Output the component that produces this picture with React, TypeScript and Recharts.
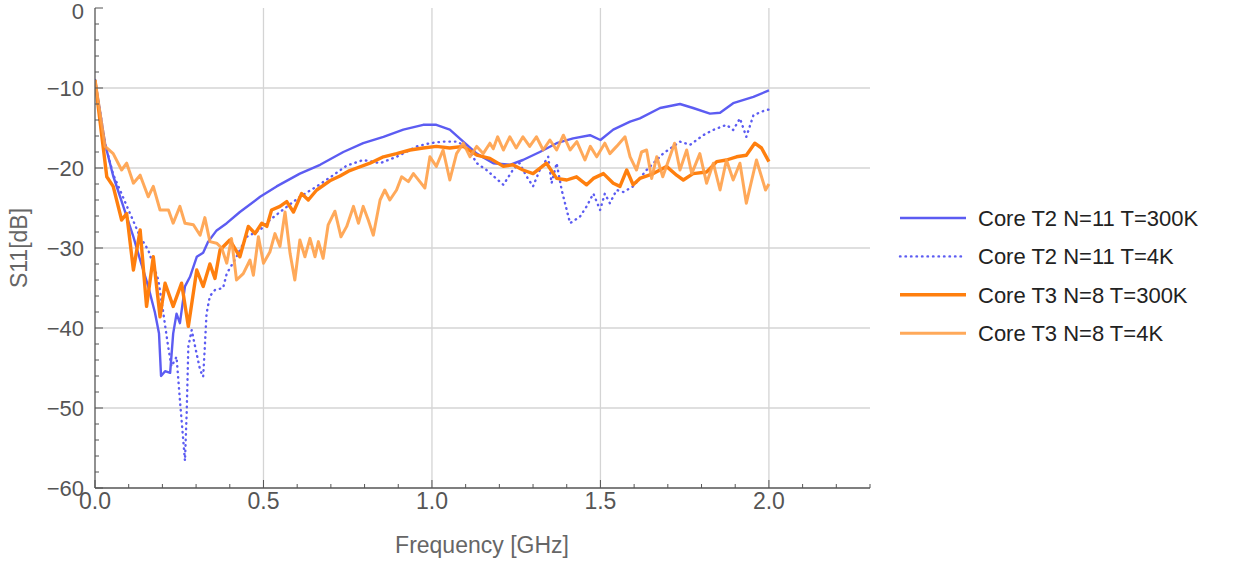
import { LineChart, Line, XAxis, YAxis, ReferenceLine } from "recharts"

// Frequency [GHz] and S11 [dB] per trace
const freqT2Warm = [0, 0.03, 0.054, 0.084, 0.114, 0.134, 0.158, 0.178, 0.19, 0.196, 0.208, 0.223, 0.232, 0.242, 0.252, 0.267, 0.282, 0.302, 0.321, 0.336, 0.361, 0.391, 0.43, 0.49, 0.539, 0.608, 0.668, 0.737, 0.796, 0.856, 0.915, 0.974, 1.013, 1.053, 1.093, 1.133, 1.182, 1.231, 1.27, 1.32, 1.37, 1.419, 1.469, 1.5, 1.538, 1.588, 1.617, 1.677, 1.736, 1.775, 1.825, 1.855, 1.894, 1.954, 2.0]
const s11T2Warm = [-9, -17.0, -21.0, -24.8, -28.6, -31.5, -34.8, -38.1, -40.7, -46.0, -45.4, -45.6, -40.7, -38.2, -39.4, -34.8, -33.6, -31.1, -30.6, -29.2, -27.8, -26.9, -25.5, -23.6, -22.3, -20.7, -19.6, -18.0, -16.9, -16.1, -15.2, -14.6, -14.6, -15.2, -16.7, -18.2, -19.4, -19.6, -19.0, -18.0, -16.9, -16.3, -15.9, -16.5, -15.2, -14.2, -13.8, -12.5, -12.0, -12.5, -13.2, -13.1, -11.9, -11.1, -10.3]

const freqT2Cold = [0, 0.03, 0.054, 0.074, 0.104, 0.134, 0.158, 0.188, 0.203, 0.217, 0.227, 0.242, 0.252, 0.267, 0.272, 0.277, 0.287, 0.297, 0.312, 0.321, 0.326, 0.331, 0.341, 0.356, 0.38, 0.391, 0.42, 0.45, 0.49, 0.519, 0.549, 0.608, 0.658, 0.707, 0.747, 0.796, 0.846, 0.895, 0.955, 0.994, 1.033, 1.073, 1.103, 1.133, 1.162, 1.182, 1.212, 1.24, 1.26, 1.28, 1.3, 1.32, 1.345, 1.355, 1.37, 1.385, 1.4, 1.41, 1.439, 1.459, 1.479, 1.499, 1.513, 1.528, 1.548, 1.568, 1.597, 1.637, 1.686, 1.736, 1.766, 1.805, 1.834, 1.874, 1.894, 1.914, 1.933, 1.954, 1.988, 2.0]
const s11T2Cold = [-9, -17.0, -20.8, -22.75, -25.7, -28.6, -30.25, -34.0, -38.2, -42.3, -44.8, -43.6, -49.0, -56.6, -50.7, -42.3, -40.25, -42.3, -45.25, -46.1, -42.3, -38.2, -36.0, -35.25, -35.0, -33.2, -31.1, -28.6, -27.75, -26.5, -25.5, -23.6, -22.3, -20.9, -19.7, -19.0, -19.4, -18.6, -17.3, -16.9, -16.7, -16.7, -17.3, -19.4, -20.25, -21.0, -22.1, -20.25, -19.4, -21.0, -22.3, -20.25, -18.6, -21.9, -19.4, -22.75, -25.25, -26.9, -26.1, -24.8, -23.2, -25.25, -23.2, -24.4, -22.75, -23.0, -22.3, -20.25, -18.2, -16.7, -17.1, -15.9, -15.25, -14.6, -15.25, -13.8, -16.1, -13.4, -12.8, -12.7]

const freqT3Warm = [0, 0.035, 0.054, 0.079, 0.094, 0.114, 0.134, 0.153, 0.173, 0.193, 0.208, 0.232, 0.257, 0.277, 0.302, 0.321, 0.341, 0.356, 0.371, 0.4, 0.43, 0.455, 0.475, 0.495, 0.51, 0.524, 0.549, 0.569, 0.589, 0.613, 0.633, 0.658, 0.697, 0.727, 0.752, 0.777, 0.816, 0.856, 0.895, 0.935, 0.974, 1.013, 1.053, 1.093, 1.133, 1.172, 1.212, 1.24, 1.27, 1.3, 1.34, 1.37, 1.4, 1.429, 1.459, 1.479, 1.509, 1.538, 1.558, 1.578, 1.597, 1.617, 1.657, 1.696, 1.726, 1.746, 1.775, 1.815, 1.845, 1.874, 1.904, 1.933, 1.958, 1.978, 2.0]
const s11T3Warm = [-9, -21.1, -22.3, -26.5, -25.7, -32.75, -27.75, -37.3, -31.1, -38.6, -34.4, -37.3, -34.4, -39.8, -32.75, -34.8, -32.0, -33.8, -30.25, -29.0, -31.1, -27.3, -28.2, -26.9, -27.3, -25.25, -24.8, -24.2, -25.5, -23.2, -24.0, -22.75, -21.6, -21.0, -20.4, -20.0, -19.4, -18.6, -18.2, -17.75, -17.5, -17.3, -17.5, -17.3, -18.4, -18.8, -19.8, -19.6, -20.25, -20.7, -19.4, -21.3, -21.5, -21.1, -22.1, -21.3, -20.7, -21.9, -22.3, -20.25, -22.1, -21.3, -20.7, -19.8, -20.9, -21.5, -20.7, -20.5, -19.2, -19.0, -18.6, -18.4, -16.9, -17.5, -19.2]

const freqT3Cold = [0, 0.03, 0.054, 0.079, 0.094, 0.114, 0.134, 0.158, 0.173, 0.193, 0.218, 0.232, 0.252, 0.267, 0.292, 0.312, 0.326, 0.341, 0.361, 0.376, 0.391, 0.405, 0.42, 0.44, 0.46, 0.47, 0.485, 0.5, 0.519, 0.534, 0.549, 0.564, 0.579, 0.593, 0.608, 0.623, 0.638, 0.653, 0.663, 0.677, 0.692, 0.712, 0.73, 0.747, 0.767, 0.782, 0.796, 0.811, 0.826, 0.846, 0.86, 0.875, 0.895, 0.91, 0.93, 0.945, 0.964, 0.979, 0.994, 1.013, 1.033, 1.053, 1.073, 1.093, 1.113, 1.133, 1.152, 1.172, 1.182, 1.195, 1.212, 1.231, 1.25, 1.27, 1.29, 1.31, 1.33, 1.35, 1.37, 1.39, 1.41, 1.43, 1.454, 1.47, 1.489, 1.513, 1.528, 1.548, 1.573, 1.588, 1.607, 1.622, 1.637, 1.652, 1.667, 1.685, 1.72, 1.736, 1.756, 1.771, 1.795, 1.815, 1.835, 1.855, 1.874, 1.894, 1.914, 1.933, 1.963, 1.99, 2.0]
const s11T3Cold = [-9, -17.3, -18.2, -20.25, -19.4, -21.9, -20.9, -23.6, -22.3, -25.25, -25.25, -26.9, -24.8, -26.9, -27.1, -28.4, -26.2, -29.2, -29.4, -30.0, -31.9, -28.8, -34.0, -33.2, -31.5, -33.4, -28.6, -31.9, -30.5, -28.2, -29.8, -25.5, -30.7, -34.0, -29.0, -31.1, -28.8, -31.1, -29.2, -31.3, -27.1, -25.4, -28.6, -27.3, -24.8, -26.9, -24.8, -26.5, -28.4, -24.0, -22.75, -24.0, -22.75, -21.1, -21.7, -20.7, -21.7, -22.5, -18.6, -19.8, -17.75, -21.5, -18.2, -16.9, -18.6, -17.3, -18.2, -16.9, -17.6, -16.1, -17.75, -16.1, -17.5, -16.1, -17.3, -16.1, -17.75, -16.5, -17.75, -15.9, -17.75, -16.7, -19.0, -17.3, -18.6, -16.9, -18.2, -17.3, -16.1, -18.6, -20.25, -18.0, -17.75, -21.3, -18.6, -21.1, -16.9, -20.25, -17.75, -20.7, -18.2, -21.9, -19.4, -22.75, -19.0, -21.5, -19.4, -24.4, -19.0, -22.75, -22.0]

const xTicks = Array.from({ length: 24 }, (_, i) => i / 10)
const yTicks = Array.from({ length: 31 }, (_, i) => -60 + i * 2)

const isMajorX = (v: number) => Math.round(v * 10) % 5 === 0
const isMajorY = (v: number) => v % 10 === 0

const zip = (f: number[], s: number[]) => f.map((x, i) => ({ f: x, v: s[i] }))

const series = [
  { name: "Core T2 N=11 T=300K", data: zip(freqT2Warm, s11T2Warm), color: "#5c5cf2", width: 2.4, dash: undefined as string | undefined, opacity: 1 },
  { name: "Core T2 N=11 T=4K", data: zip(freqT2Cold, s11T2Cold), color: "#5c5cf2", width: 2.4, dash: "0.5 5", opacity: 1 },
  { name: "Core T3 N=8 T=300K", data: zip(freqT3Warm, s11T3Warm), color: "#ff7f0e", width: 3.4, dash: undefined, opacity: 1 },
  { name: "Core T3 N=8 T=4K", data: zip(freqT3Cold, s11T3Cold), color: "#ffa048", width: 3, dash: undefined, opacity: 0.9 },
]

const frame = "#555"
const font = "'Liberation Sans', Arial, sans-serif"

const fmtY = (v: number) => (v === 0 ? "0" : "\u2212" + Math.abs(v))

const BottomTick = ({ x, y, payload }: any) => {
  const major = isMajorX(payload.value)
  return (
    <g>
      <line x1={x} x2={x} y1={y} y2={y - (major ? 8 : 4)} stroke={frame} />
      {major && (
        <text x={x} y={y + 21} textAnchor="middle" fill="#555" fontSize={23} fontFamily={font}>
          {payload.value.toFixed(1)}
        </text>
      )}
    </g>
  )
}

const TopTick = ({ x, y, payload }: any) => (
  <line x1={x} x2={x} y1={y} y2={y + (isMajorX(payload.value) ? 8 : 4)} stroke={frame} />
)

const LeftTick = ({ x, y, payload }: any) => {
  const major = isMajorY(payload.value)
  // the top label sits against the page edge, so it is nudged down a little
  const dy = payload.value === 0 ? 11 : 8
  return (
    <g>
      <line x1={x} x2={x + (major ? 8 : 4)} y1={y} y2={y} stroke={frame} />
      {major && (
        <text x={x - 11} y={y + dy} textAnchor="end" fill="#555" fontSize={22} fontFamily={font}>
          {fmtY(payload.value)}
        </text>
      )}
    </g>
  )
}

const RightTick = ({ x, y, payload }: any) => (
  <line x1={x} x2={x - (isMajorY(payload.value) ? 8 : 4)} y1={y} y2={y} stroke={frame} />
)

const LegendBox = () => (
  <svg width={343} height={160} style={{ position: "absolute", left: 895, top: 200 }}>
    {series.map((s, i) => {
      const cy = 18 + i * 38.4
      return (
        <g key={s.name}>
          <line x1={5} x2={71} y1={cy} y2={cy} stroke={s.color} strokeWidth={s.width} strokeDasharray={s.dash} strokeLinecap={s.dash ? "round" : "butt"} strokeOpacity={s.opacity} />
          <text x={83} y={cy + 8} fill="#222" fontSize={22} fontFamily={font}>
            {s.name}
          </text>
        </g>
      )
    })}
  </svg>
)

const App = () => {
  return (
    <div style={{ position: "absolute", left: 0, top: 0, width: 1238, height: 565, background: "#fff" }}>
      <LineChart width={1238} height={565} margin={{ top: 8, right: 368, bottom: 0, left: 0 }}>
        <XAxis
          dataKey="f"
          type="number"
          domain={[0, 2.3]}
          ticks={xTicks}
          interval={0}
          height={77}
          tickSize={0}
          tickMargin={0}
          tick={<BottomTick />}
          axisLine={{ stroke: frame, strokeWidth: 1.3 }}
          allowDataOverflow
          label={{
            content: () => (
              <text x={482} y={553} textAnchor="middle" fill="#666" fontSize={23} fontFamily={font}>
                Frequency [GHz]
              </text>
            ),
          }}
        />
        <XAxis
          xAxisId="top"
          orientation="top"
          dataKey="f"
          type="number"
          domain={[0, 2.3]}
          ticks={xTicks}
          interval={0}
          height={0}
          tickSize={0}
          tickMargin={0}
          tick={<TopTick />}
          axisLine={{ stroke: frame, strokeWidth: 1.3 }}
          allowDataOverflow
        />
        <YAxis
          type="number"
          domain={[-60, 0]}
          ticks={yTicks}
          interval={0}
          width={95}
          tickSize={0}
          tickMargin={0}
          tick={<LeftTick />}
          axisLine={{ stroke: frame, strokeWidth: 1.3 }}
          allowDataOverflow
          label={{
            content: () => (
              <text transform="translate(27,248) rotate(-90)" textAnchor="middle" fill="#666" fontSize={23} fontFamily={font}>
                S11[dB]
              </text>
            ),
          }}
        />
        <YAxis
          yAxisId="right"
          orientation="right"
          type="number"
          domain={[-60, 0]}
          ticks={yTicks}
          interval={0}
          width={0}
          tickSize={0}
          tickMargin={0}
          tick={<RightTick />}
          axisLine={{ stroke: frame, strokeWidth: 1.3 }}
          allowDataOverflow
        />
        {xTicks.filter((v) => isMajorX(v) && v > 0 && v < 2.3).map((v) => (
          <ReferenceLine key={"gx" + v} x={v} stroke="#d4d4d4" strokeWidth={1.3} />
        ))}
        {yTicks.filter((v) => isMajorY(v) && v > -60 && v < 0).map((v) => (
          <ReferenceLine key={"gy" + v} y={v} stroke="#d4d4d4" strokeWidth={1.3} />
        ))}
        {series.map((s) => (
          <Line
            key={s.name}
            data={s.data}
            dataKey="v"
            name={s.name}
            type="linear"
            stroke={s.color}
            strokeWidth={s.width}
            strokeDasharray={s.dash}
            strokeLinecap={s.dash ? "round" : "butt"}
            strokeLinejoin="round"
            strokeOpacity={s.opacity}
            dot={false}
            activeDot={false}
            isAnimationActive={false}
          />
        ))}
      </LineChart>
      <LegendBox />
    </div>
  )
}

export default App
